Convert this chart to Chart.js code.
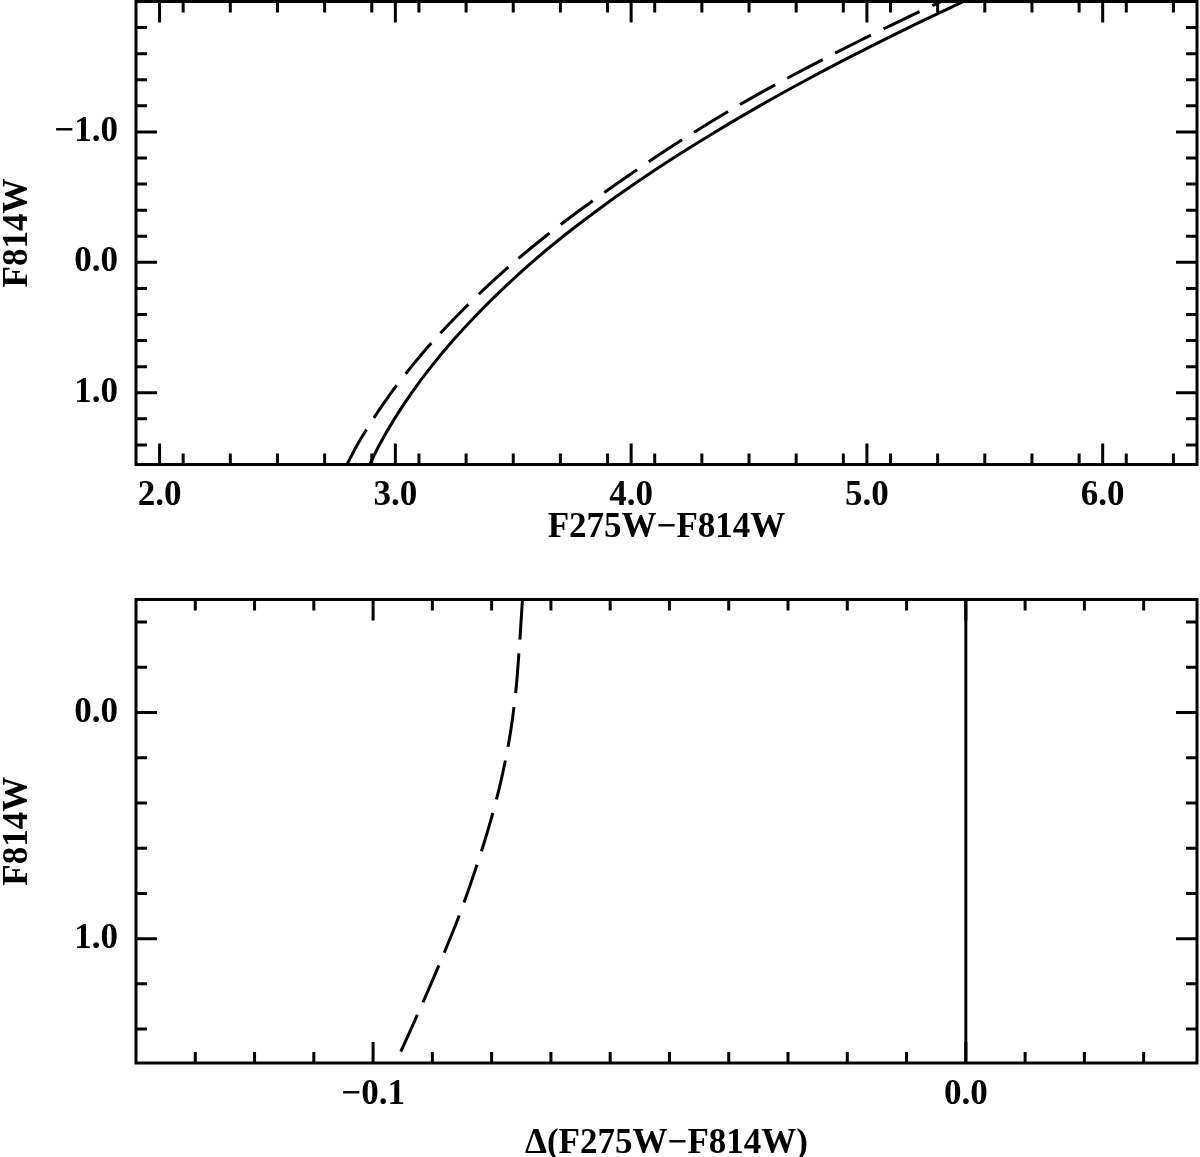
<!DOCTYPE html>
<html>
<head>
<meta charset="utf-8">
<script src="https://cdn.jsdelivr.net/npm/chart.js@4"></script>
<style>
  html, body { margin: 0; padding: 0; background: #fff; overflow: hidden; }
  .panel { position: absolute; left: 0; width: 1200px; }
  #topPanel { top: 0; height: 560px; }
  #bottomPanel { top: 570px; height: 587px; }
</style>
</head>
<body>
<div class="panel" id="topPanel"><canvas id="cmdChart" width="1200" height="560"></canvas></div>
<div class="panel" id="bottomPanel"><canvas id="deltaChart" width="1200" height="587"></canvas></div>
<script>
// F814W magnitudes sampled along the two sequences (top panel)
const magTop = [1.55, 1.4, 1.2, 1.0, 0.8, 0.6, 0.4, 0.2, 0.0, -0.2, -0.4, -0.6, -0.8, -1.0, -1.2, -1.4, -1.6, -1.8, -2.0];
// F275W-F814W colour, solid line
const colorSolid = [2.891, 2.932, 2.996, 3.069, 3.152, 3.244, 3.346, 3.458, 3.579, 3.712, 3.857, 4.013, 4.179, 4.357, 4.545, 4.745, 4.956, 5.177, 5.410];
// F275W-F814W colour, dashed line
const colorDashed = [2.795, 2.838, 2.906, 2.982, 3.068, 3.162, 3.267, 3.380, 3.503, 3.637, 3.782, 3.937, 4.098, 4.269, 4.452, 4.650, 4.861, 5.082, 5.315];

// bottom panel: colour difference relative to the solid line
const magBottom = [-0.5, -0.3, -0.1, 0.1, 0.3, 0.5, 0.7, 0.9, 1.1, 1.3, 1.55];
const deltaDashed = [-0.0748, -0.0753, -0.0759, -0.0769, -0.0784, -0.0804, -0.0828, -0.0855, -0.0886, -0.0919, -0.0962];
const magRef = [-0.5, 1.55];
const deltaRef = [0, 0];

// labelled ticks
const topXLabels = [2.0, 3.0, 4.0, 5.0, 6.0];
const topYLabels = [-1.0, 0.0, 1.0];
const bottomXLabels = [-0.1, 0.0];
const bottomYLabels = [0.0, 1.0];

Chart.defaults.font = { family: "'Liberation Serif', serif", size: 35, weight: 'bold', lineHeight: 1 };
Chart.defaults.color = '#000';

function fmt(v) {
  return (v < -1e-9 ? '\u2212' : '') + Math.abs(v).toFixed(1);
}

function steps(from, to, step) {
  const out = [];
  for (let v = from; v <= to + step / 1000; v += step) out.push(Math.round(v * 10000) / 10000);
  return out;
}

// box round the plot with inward ticks on every side
const frameTicks = {
  id: 'frameTicks',
  afterDraw(chart, args, opts) {
    const { ctx, chartArea: a, scales: { x, y } } = chart;
    ctx.save();
    ctx.strokeStyle = '#000';
    ctx.lineWidth = 3;
    ctx.beginPath();
    const drawX = (vals, len) => {
      vals.forEach(v => {
        const px = x.getPixelForValue(v);
        if (px <= a.left + 1 || px >= a.right - 1) return;
        ctx.moveTo(px, a.bottom); ctx.lineTo(px, a.bottom - len);
        ctx.moveTo(px, a.top); ctx.lineTo(px, a.top + len);
      });
    };
    const drawY = (vals, len) => {
      vals.forEach(v => {
        const py = y.getPixelForValue(v);
        if (py <= a.top + 1 || py >= a.bottom - 1) return;
        ctx.moveTo(a.left, py); ctx.lineTo(a.left + len, py);
        ctx.moveTo(a.right, py); ctx.lineTo(a.right - len, py);
      });
    };
    drawX(opts.xMinor, 11);
    drawX(opts.xMajor, 21);
    drawY(opts.yMinor, 11);
    drawY(opts.yMajor, 21);
    ctx.stroke();
    ctx.strokeRect(a.left, a.top, a.right - a.left, a.bottom - a.top);
    ctx.restore();
  }
};

function xScale(min, max, labels, title, titlePad, height) {
  return {
    type: 'linear', min: min, max: max,
    grid: { display: false, drawTicks: false }, border: { display: false },
    afterBuildTicks: s => { s.ticks = labels.map(v => ({ value: v })); },
    ticks: { autoSkip: false, maxRotation: 0, padding: 14, callback: v => fmt(v) },
    title: { display: true, text: title, padding: { top: 0, bottom: titlePad } },
    afterFit: s => { s.height = height; s.paddingLeft = 0; s.paddingRight = 0; }
  };
}

function yScale(min, max, labels) {
  return {
    type: 'linear', min: min, max: max, reverse: true,
    grid: { display: false, drawTicks: false }, border: { display: false },
    afterBuildTicks: s => { s.ticks = labels.map(v => ({ value: v })); },
    ticks: { autoSkip: false, padding: 18, callback: v => fmt(v) },
    title: { display: true, text: 'F814W', padding: { top: 0.5, bottom: 0 } },
    afterFit: s => { s.width = 136; s.paddingTop = 0; s.paddingBottom = 0; }
  };
}

function line(xs, ys, dashed) {
  return {
    data: xs.map((v, i) => ({ x: v, y: ys[i] })),
    showLine: true,
    borderColor: '#000',
    borderWidth: 3,
    borderDash: dashed ? [40, 14] : [],
    pointRadius: 0,
    tension: 0.3
  };
}

new Chart(document.getElementById('cmdChart').getContext('2d'), {
  type: 'scatter',
  data: {
    datasets: [
      line(colorSolid, magTop, false),
      line(colorDashed, magTop, true)
    ]
  },
  options: {
    responsive: false,
    animation: false,
    layout: { padding: { top: 1.5, right: 3, left: 0, bottom: 0 } },
    scales: {
      x: xScale(1.9, 6.4, topXLabels, 'F275W\u2212F814W', 14.5, 95.5),
      y: yScale(-2.0, 1.55, topYLabels)
    },
    plugins: {
      legend: { display: false },
      tooltip: { enabled: false },
      frameTicks: {
        xMajor: topXLabels, xMinor: steps(1.9, 6.4, 0.2),
        yMajor: topYLabels, yMinor: steps(-2.0, 1.55, 0.2)
      }
    }
  },
  plugins: [frameTicks]
});

new Chart(document.getElementById('deltaChart').getContext('2d'), {
  type: 'scatter',
  data: {
    datasets: [
      line(deltaRef, magRef, false),
      line(deltaDashed, magBottom, true)
    ]
  },
  options: {
    responsive: false,
    animation: false,
    layout: { padding: { top: 29.5, right: 3, left: 0, bottom: 0 } },
    scales: {
      x: xScale(-0.14, 0.039, bottomXLabels, '\u0394(F275W\u2212F814W)', -4.5, 94),
      y: yScale(-0.5, 1.55, bottomYLabels)
    },
    plugins: {
      legend: { display: false },
      tooltip: { enabled: false },
      frameTicks: {
        xMajor: bottomXLabels, xMinor: steps(-0.14, 0.039, 0.01),
        yMajor: bottomYLabels, yMinor: steps(-0.4, 1.55, 0.2)
      }
    }
  },
  plugins: [frameTicks]
});
</script>
</body>
</html>
